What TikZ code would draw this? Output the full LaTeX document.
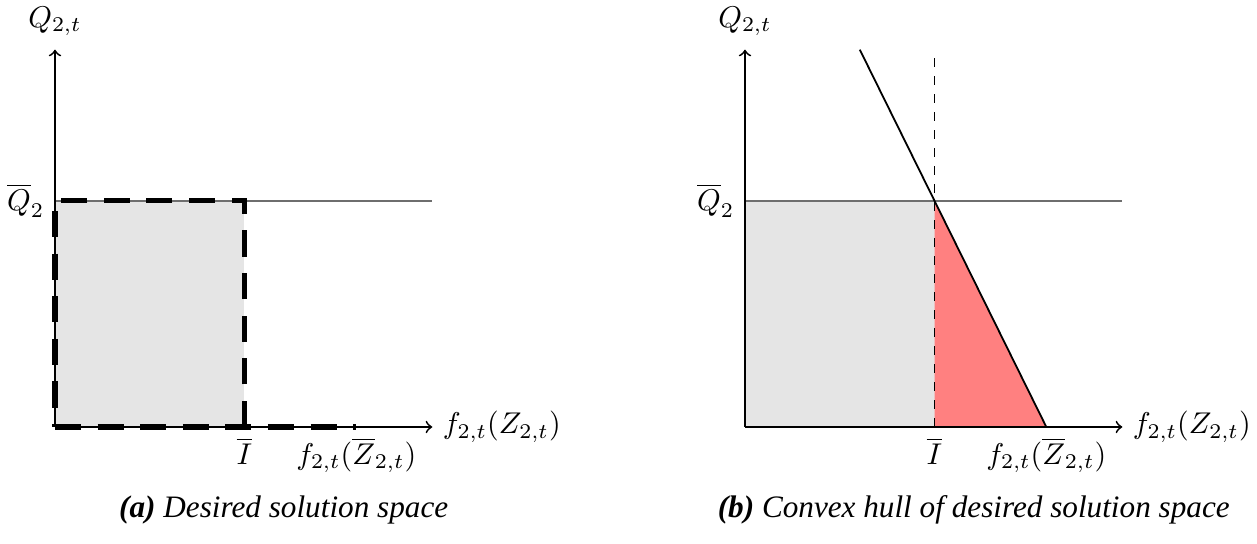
\documentclass[tikz,border=0pt]{standalone}
\usepackage{fontspec}
\newfontfamily\capfont{Liberation Serif}
\usetikzlibrary{calc}

\definecolor{regiongray}{HTML}{E5E5E5}
\definecolor{hullred}{HTML}{FF8080}
\definecolor{levelgray}{HTML}{6E6E6E}

\begin{document}
\begin{tikzpicture}[
  axis/.style={semithick, ->},
  level/.style={semithick, draw=levelgray},
  bound/.style={line width=1.8pt, dash pattern=on 8.7pt off 5.5pt},
  cut/.style={thin, dashed},
  facet/.style={semithick},
  caption/.style={font=\capfont\fontsize{10.4}{13}\selectfont},
]
\useasboundingbox (-0.644,-1.359) rectangle (14.081,5.002);

% ── (a) the box we want: I-bar wide, Q-bar high ───────────────────────────
\begin{scope}
  \coordinate (aO) at (0,0);
  \coordinate (aX) at (4.42,0);
  \coordinate (aY) at (0,4.42);
  \coordinate (aQ) at (0,2.65);
  \coordinate (aL) at (4.42,2.65);
  \coordinate (aI) at (2.22,0);
  \coordinate (aC) at (2.22,2.65);
  \coordinate (aZ) at (3.53,0);

  \fill[regiongray] (aO) rectangle (aC);
  \draw[level] (aQ) -- (aL);
  \draw[axis] (aO) -- (aX);
  \draw[axis] (aO) -- (aY);

  % the bounds, thick and dashed, drawn over the axes
  \draw[bound] (aO) -- (aZ);
  \draw[bound] (aI) -- (aC) -- (aQ) -- (aO);

  \node[above=1pt] (aYlab) at (aY) {$Q_{2,t}$};
  \node[left] (aQlab) at (aQ) {$\overline{Q}_2$};
  \node[below] (aIlab) at (aI) {$\overline{I}$};
  \node[below] (aZlab) at (aZ) {$f_{2,t}(\overline{Z}_{2,t})$};
  \node[right] (aXlab) at (aX) {$f_{2,t}(Z_{2,t})$};

  \node[caption] (acap) at (2.68,-0.97)
    {{\bfseries\itshape (a)} \itshape Desired solution space};
\end{scope}

% ── (b) its convex hull: the box plus a red triangle ──────────────────────
\begin{scope}[shift={(8.083,0)}]
  \coordinate (bO) at (0,0);
  \coordinate (bX) at (4.42,0);
  \coordinate (bY) at (0,4.42);
  \coordinate (bQ) at (0,2.65);
  \coordinate (bL) at (4.42,2.65);
  \coordinate (bI) at (2.22,0);
  \coordinate (bC) at (2.22,2.65);
  \coordinate (bT) at (2.22,4.42);
  \coordinate (bZ) at (3.53,0);
  \coordinate (bF) at ($(bZ)!1.668!(bC)$);   % top end of the facet

  \fill[regiongray] (bO) rectangle (bC);
  \fill[hullred] (bI) -- (bC) -- (bZ) -- cycle;
  \draw[level] (bQ) -- (bL);
  \draw[cut] (bI) -- (bT);
  \draw[facet] (bZ) -- (bF);
  \draw[axis] (bO) -- (bX);
  \draw[axis] (bO) -- (bY);

  \node[above=1pt] (bYlab) at (bY) {$Q_{2,t}$};
  \node[left] (bQlab) at (bQ) {$\overline{Q}_2$};
  \node[below] (bIlab) at (bI) {$\overline{I}$};
  \node[below] (bZlab) at (bZ) {$f_{2,t}(\overline{Z}_{2,t})$};
  \node[right] (bXlab) at (bX) {$f_{2,t}(Z_{2,t})$};

  \node[caption] (bcap) at (2.68,-0.97)
    {{\bfseries\itshape (b)} \itshape Convex hull of desired solution space};
\end{scope}

\end{tikzpicture}
\end{document}
